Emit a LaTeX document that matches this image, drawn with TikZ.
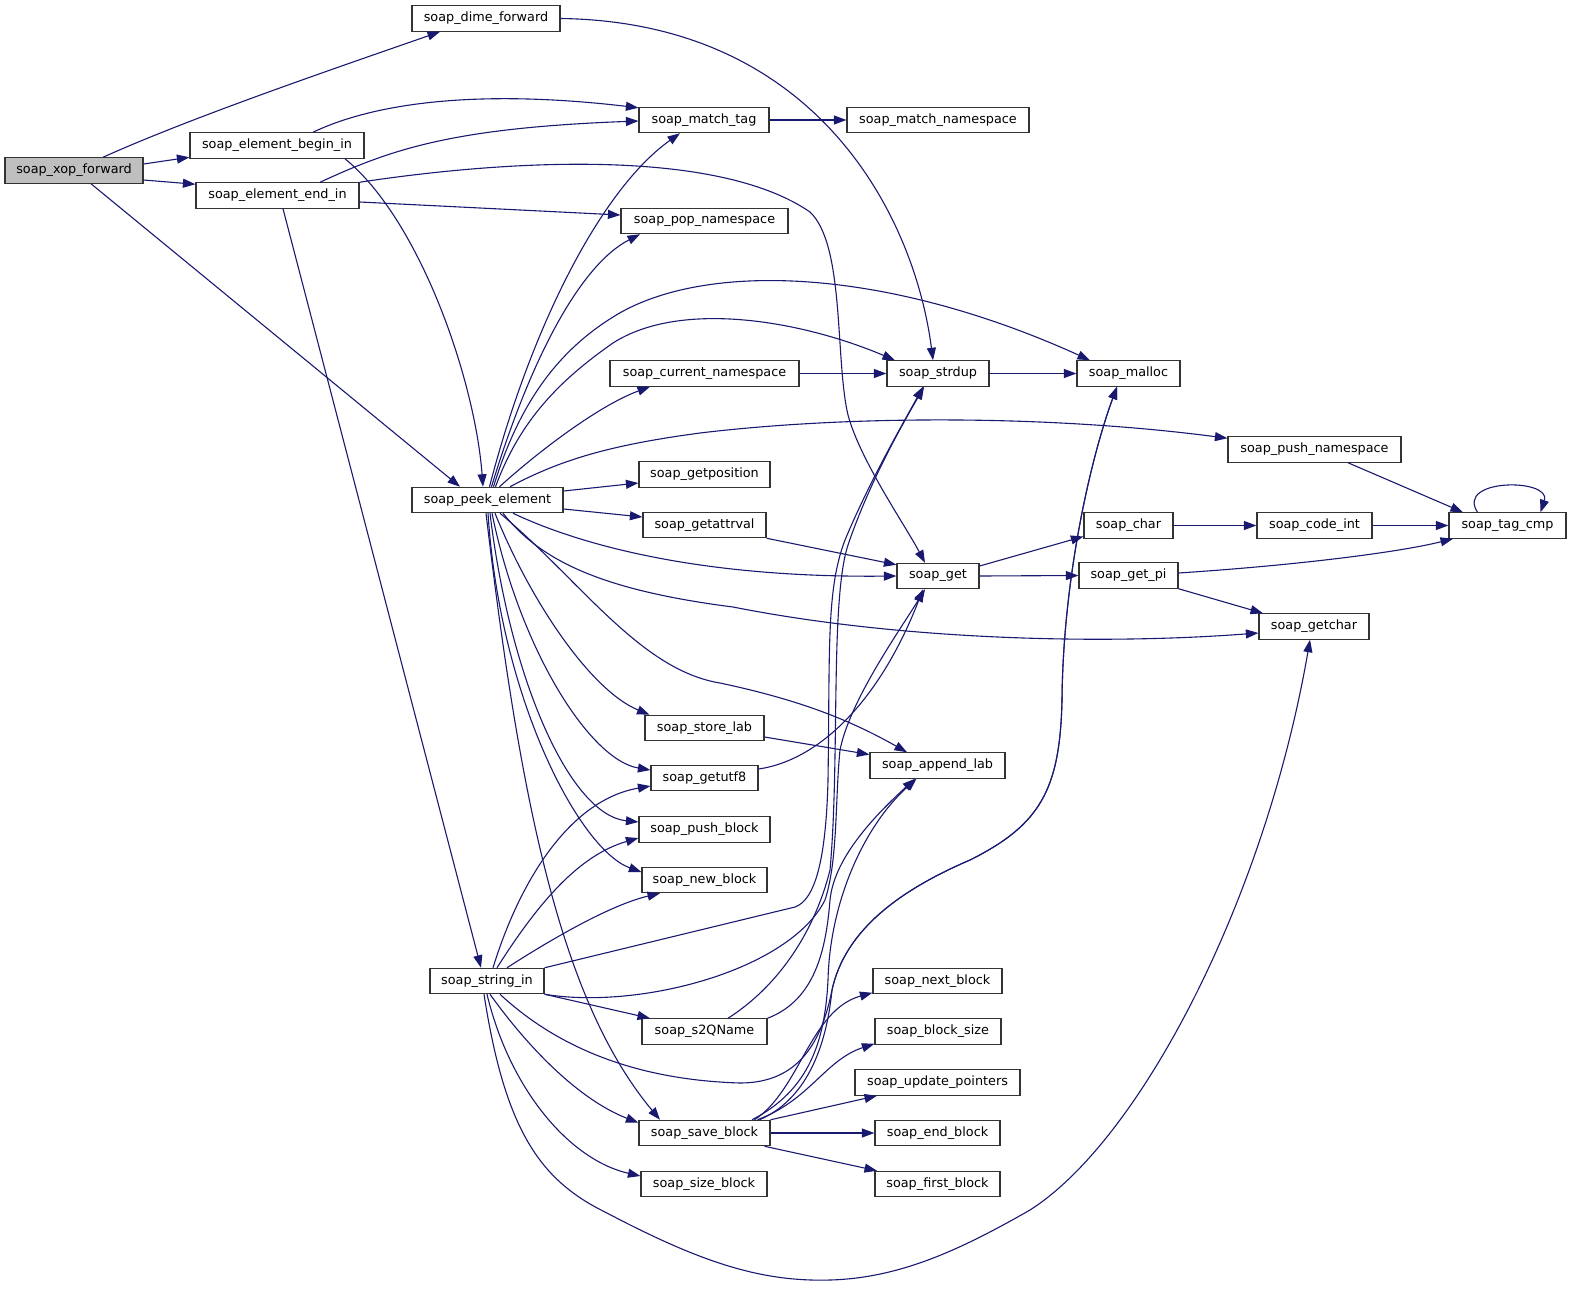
\documentclass[tikz,border=0pt]{standalone}
\usepackage{fontspec}
\setmainfont{DejaVu Sans}
\usetikzlibrary{arrows.meta}
\definecolor{edgeblue}{HTML}{191970}
\definecolor{nodeborder}{HTML}{333333}
\definecolor{rootfill}{HTML}{BFBFBF}
\begin{document}
\begin{tikzpicture}[x=1pt,y=-1pt,
  box/.style={draw=nodeborder, line width=1.2pt, fill=white, minimum height=25.3pt, inner sep=0pt, font=\fontsize{12.8pt}{15pt}\selectfont},
  rootbox/.style={box, fill=rootfill},
  edge/.style={draw=edgeblue, line width=1.1pt, -{Triangle[length=12.5pt,width=9pt]}}]
\useasboundingbox (0,0) rectangle (1571,1288);

% nodes
\node[rootbox, minimum width=138pt] (nxop) at (74,170.5) {soap\_xop\_forward};
\node[box, minimum width=148pt] (ndime) at (486,18.5) {soap\_dime\_forward};
\node[box, minimum width=174pt] (nbegin) at (277,145.5) {soap\_element\_begin\_in};
\node[box, minimum width=163pt] (nend) at (277.5,195.5) {soap\_element\_end\_in};
\node[box, minimum width=130pt] (nmatchtag) at (704,120) {soap\_match\_tag};
\node[box, minimum width=182pt] (nmatchns) at (938,120) {soap\_match\_namespace};
\node[box, minimum width=167pt] (npopns) at (704.5,221) {soap\_pop\_namespace};
\node[box, minimum width=189pt] (ncurns) at (704.5,373.5) {soap\_current\_namespace};
\node[box, minimum width=102pt] (nstrdup) at (938,373.5) {soap\_strdup};
\node[box, minimum width=103pt] (nmalloc) at (1128.5,373.5) {soap\_malloc};
\node[box, minimum width=173pt] (npushns) at (1314.5,449.5) {soap\_push\_namespace};
\node[box, minimum width=151pt] (npeek) at (487.5,500) {soap\_peek\_element};
\node[box, minimum width=131pt] (ngetpos) at (704.5,474.5) {soap\_getposition};
\node[box, minimum width=123pt] (ngetattr) at (704.5,525) {soap\_getattrval};
\node[box, minimum width=82pt] (nget) at (938,576) {soap\_get};
\node[box, minimum width=89pt] (nchar) at (1128.5,525.5) {soap\_char};
\node[box, minimum width=115pt] (ncodeint) at (1314.5,525.5) {soap\_code\_int};
\node[box, minimum width=117pt] (ntagcmp) at (1507.5,525.5) {soap\_tag\_cmp};
\node[box, minimum width=99pt] (ngetpi) at (1128.5,575.5) {soap\_get\_pi};
\node[box, minimum width=110pt] (ngetchar) at (1314,626.5) {soap\_getchar};
\node[box, minimum width=119pt] (nstorelab) at (704.5,728) {soap\_store\_lab};
\node[box, minimum width=135pt] (nappendlab) at (937.5,765.5) {soap\_append\_lab};
\node[box, minimum width=107pt] (ngetutf8) at (704.5,778) {soap\_getutf8};
\node[box, minimum width=131pt] (npushblock) at (704.5,829.5) {soap\_push\_block};
\node[box, minimum width=125pt] (nnewblock) at (704.5,880) {soap\_new\_block};
\node[box, minimum width=114pt] (nstringin) at (487,981) {soap\_string\_in};
\node[box, minimum width=129pt] (nnextblock) at (937.5,981) {soap\_next\_block};
\node[box, minimum width=125pt] (ns2q) at (704.5,1031.5) {soap\_s2QName};
\node[box, minimum width=126pt] (nblocksize) at (938,1031.5) {soap\_block\_size};
\node[box, minimum width=165pt] (nupdate) at (937.5,1082.5) {soap\_update\_pointers};
\node[box, minimum width=131pt] (nsaveblock) at (704.5,1133) {soap\_save\_block};
\node[box, minimum width=125pt] (nendblock) at (937.5,1133) {soap\_end\_block};
\node[box, minimum width=126pt] (nsizeblock) at (704,1184) {soap\_size\_block};
\node[box, minimum width=125pt] (nfirstblock) at (937.5,1184) {soap\_first\_block};

% soap_xop_forward
\draw[edge] ([xshift=29pt]nxop.north) .. controls (190,118) and (330,70) .. ([xshift=-46pt]ndime.south);
\draw[edge] ([yshift=6.5pt]nxop.east) -- ([yshift=1.5pt]nbegin.south west);
\draw[edge] ([yshift=-9.5pt]nxop.east) -- ([yshift=-2pt]nend.north west);
\draw[edge] ([xshift=17pt]nxop.south) -- ([xshift=-27.5pt]npeek.north);

% soap_dime_forward
\draw[edge] (ndime.east) .. controls (820,22) and (915,220) .. ([xshift=-5pt]nstrdup.north);

% soap_element_begin_in
\draw[edge] ([xshift=36pt]nbegin.north) .. controls (370,105) and (470,88) .. ([yshift=-1pt]nmatchtag.north west);
\draw[edge] ([xshift=68pt]nbegin.south) .. controls (420,220) and (475,380) .. ([xshift=-4.5pt]npeek.north);

% soap_element_end_in
\draw[edge] ([xshift=42.5pt]nend.north) .. controls (390,150) and (450,128) .. ([yshift=-1pt]nmatchtag.west);
\draw[edge] (nend.north east) .. controls (520,158) and (720,150) .. (810,212) .. controls (845,245) and (835,360) .. (848,415) .. controls (860,460) and (905,525) .. ([xshift=-13pt]nget.north);
\draw[edge] ([yshift=-6.5pt]nend.east) -- ([yshift=6pt]npopns.west);
\draw[edge] ([xshift=5.5pt]nend.south) -- ([xshift=-6pt]nstringin.north);

\draw[edge] (nmatchtag.east) -- (nmatchns.west);

% soap_peek_element upward
\draw[edge] ([xshift=2pt]npeek.north) .. controls (530,330) and (600,190) .. ([xshift=-24pt]nmatchtag.south);
\draw[edge] ([xshift=4pt]npeek.north) .. controls (530,360) and (580,265) .. ([xshift=-64.5pt]npopns.south);
\draw[edge] ([xshift=6pt]npeek.north) .. controls (520,400) and (560,350) .. (613,317) .. controls (700,262) and (880,265) .. ([xshift=-38.5pt]nmalloc.north);
\draw[edge] ([xshift=8pt]npeek.north) .. controls (520,420) and (560,380) .. (613,343) .. controls (680,300) and (800,320) .. ([xshift=-43pt]nstrdup.north);
\draw[edge] ([xshift=12pt]npeek.north) .. controls (540,450) and (600,405) .. ([xshift=-54.5pt]ncurns.south);
\draw[edge] ([xshift=22.5pt]npeek.north) .. controls (560,460) and (610,445) .. (700,433) .. controls (850,415) and (1050,415) .. ([yshift=-2pt]npushns.north west);

% soap_peek_element rightward / downward
\draw[edge] ([yshift=9pt]npeek.east) -- ([yshift=-8.5pt]ngetpos.west);
\draw[edge] ([yshift=-9pt]npeek.east) -- ([yshift=8pt]ngetattr.west);
\draw[edge] ([xshift=25.5pt]npeek.south) .. controls (580,545) and (700,578) .. (nget.west);
\draw[edge] ([xshift=15.5pt]npeek.south) .. controls (540,560) and (600,590) .. (733,607) .. controls (900,640) and (1100,645) .. ([yshift=-6.5pt]ngetchar.west);
\draw[edge] ([xshift=12.5pt]npeek.south) .. controls (580,580) and (640,670) .. (720,683) .. controls (800,700) and (850,720) .. ([xshift=-30.5pt]nappendlab.north);
\draw[edge] ([xshift=7.5pt]npeek.south) .. controls (530,600) and (590,690) .. ([xshift=-55pt]nstorelab.north);
\draw[edge] ([xshift=4.5pt]npeek.south) .. controls (520,650) and (590,760) .. ([yshift=8pt]ngetutf8.west);
\draw[edge] ([xshift=2.5pt]npeek.south) .. controls (510,680) and (570,815) .. ([yshift=7.5pt]npushblock.west);
\draw[edge] ([xshift=0.5pt]npeek.south) .. controls (500,700) and (580,850) .. ([yshift=8pt]nnewblock.west);
\draw[edge] ([xshift=-1.5pt]npeek.south) .. controls (520,800) and (560,1000) .. ([xshift=-44.5pt]nsaveblock.north);

% middle columns
\draw[edge] (ncurns.east) -- (nstrdup.west);
\draw[edge] (nstrdup.east) -- (nmalloc.west);
\draw[edge] ([xshift=33.5pt]npushns.south) -- ([xshift=-44.5pt]ntagcmp.north);
\draw[edge] (ngetattr.south east) -- ([yshift=-2pt]nget.north west);
\draw[edge] ([yshift=10pt]nget.east) -- ([yshift=-11pt]nchar.west);
\draw[edge] (nget.east) -- (ngetpi.west);
\draw[edge] (nchar.east) -- (ncodeint.west);
\draw[edge] (ncodeint.east) -- (ntagcmp.west);
\draw[edge] ([xshift=-30pt]ntagcmp.north) .. controls (1455,478) and (1552,478) .. ([xshift=33pt]ntagcmp.north);
\draw[edge] ([yshift=2.5pt]ngetpi.east) .. controls (1300,565) and (1400,552) .. ([xshift=-54.5pt]ntagcmp.south);
\draw[edge] (ngetpi.south east) -- ([xshift=-51pt]ngetchar.north);
\draw[edge] ([yshift=-9pt]nstorelab.east) -- ([yshift=11pt]nappendlab.west);
\draw[edge] ([yshift=9pt]ngetutf8.east) .. controls (820,760) and (880,700) .. ([xshift=-15pt]nget.south);

% soap_string_in
\draw[edge] ([xshift=6pt]nstringin.north) .. controls (520,880) and (570,800) .. ([yshift=-8pt]ngetutf8.west);
\draw[edge] ([xshift=10pt]nstringin.north) .. controls (540,900) and (580,855) .. ([yshift=-8.5pt]npushblock.west);
\draw[edge] ([xshift=20pt]nstringin.north) .. controls (550,940) and (610,905) .. ([xshift=-44.5pt]nnewblock.south);
\draw[edge] (nstringin.north east) -- (795,907) .. controls (815,900) and (826,860) .. (828,780) .. controls (830,650) and (826,590) .. (845,540) .. controls (870,480) and (905,420) .. ([xshift=-15pt]nstrdup.south);
\draw[edge] (nstringin.south east) .. controls (640,1010) and (790,970) .. (825,900) .. controls (838,860) and (835,800) .. (840,750) .. controls (850,700) and (900,630) .. ([xshift=-13pt]nget.south);
\draw[edge] (nstringin.south east) -- ([xshift=-54.5pt]ns2q.north);
\draw[edge] ([xshift=13pt]nstringin.south) .. controls (560,1050) and (640,1080) .. (740,1083) .. controls (800,1083) and (822,1040) .. (832,990) .. controls (845,930) and (900,890) .. (970,860) .. controls (1040,825) and (1060,790) .. (1062,700) .. controls (1063,580) and (1090,460) .. ([xshift=-11.5pt]nmalloc.south);
\draw[edge] ([xshift=3pt]nstringin.south) .. controls (530,1050) and (580,1100) .. ([yshift=-3pt]nsaveblock.north west);
\draw[edge] (nstringin.south) .. controls (510,1090) and (570,1160) .. ([yshift=8pt]nsizeblock.west);
\draw[edge] ([xshift=-3pt]nstringin.south) .. controls (505,1130) and (540,1180) .. (605,1212) .. controls (700,1262) and (760,1282) .. (830,1280) .. controls (900,1278) and (960,1250) .. (1030,1210) .. controls (1140,1140) and (1265,900) .. ([xshift=-4pt]ngetchar.south);

% soap_s2QName
\draw[edge] ([xshift=23.5pt]ns2q.north) .. controls (780,985) and (815,930) .. (830,870) .. controls (840,760) and (830,600) .. (848,545) .. controls (870,480) and (905,420) .. ([xshift=-14pt]nstrdup.south);
\draw[edge] (ns2q.north east) .. controls (815,1000) and (826,950) .. (830,900) .. controls (834,860) and (870,820) .. ([xshift=-22.5pt]nappendlab.south);

% soap_save_block
\draw[edge] ([xshift=47.5pt]nsaveblock.north) .. controls (810,1090) and (825,1040) .. (828,980) .. controls (830,900) and (865,825) .. ([xshift=-21pt]nappendlab.south);
\draw[edge] ([xshift=55pt]nsaveblock.north) .. controls (805,1100) and (826,1050) .. (832,990) .. controls (845,930) and (900,890) .. (970,860) .. controls (1040,825) and (1060,790) .. (1062,700) .. controls (1063,580) and (1090,460) .. ([xshift=-11.5pt]nmalloc.south);
\draw[edge] ([xshift=50pt]nsaveblock.north) .. controls (800,1090) and (810,1010) .. ([yshift=1.5pt]nnextblock.south west);
\draw[edge] ([xshift=53pt]nsaveblock.north) .. controls (810,1100) and (825,1060) .. ([yshift=1pt]nblocksize.south west);
\draw[edge] (nsaveblock.north east) -- ([xshift=-60.5pt]nupdate.south);
\draw[edge] (nsaveblock.east) -- (nendblock.west);
\draw[edge] ([xshift=60pt]nsaveblock.south) -- ([xshift=-60.5pt]nfirstblock.north);
\end{tikzpicture}
\end{document}
